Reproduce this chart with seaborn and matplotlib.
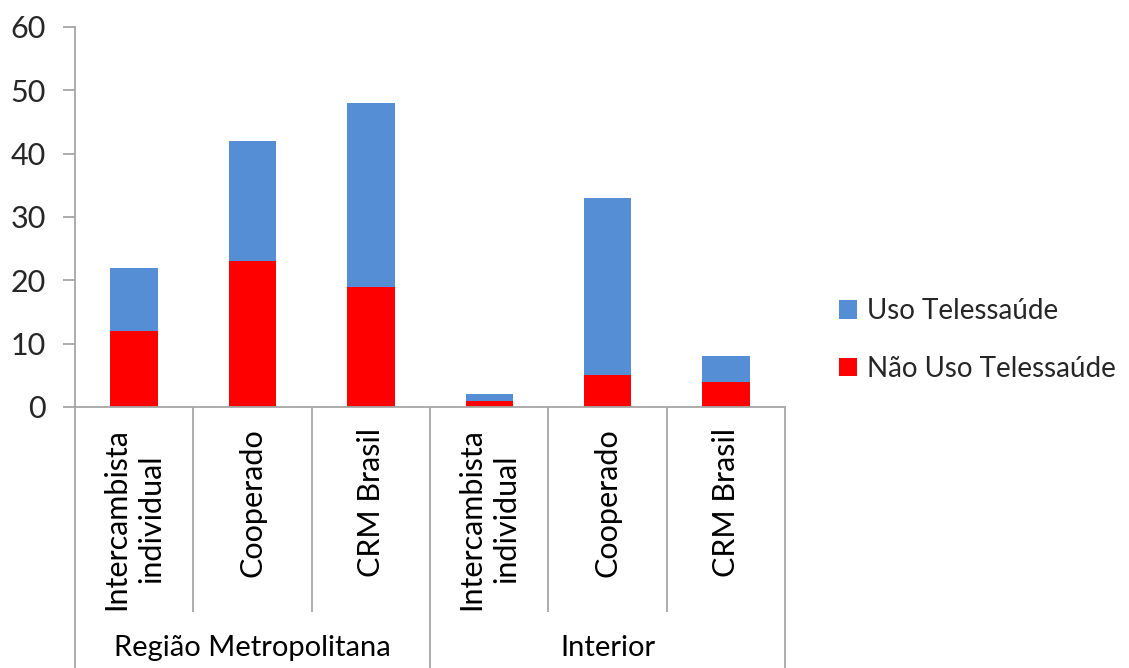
import matplotlib
matplotlib.use("Agg")
import matplotlib.pyplot as plt
import matplotlib.transforms as mtransforms
from matplotlib.patches import Patch
import pandas as pd
import seaborn as sns

groups = ["Região Metropolitana", "Interior"]
categories = ["Intercambista\nindividual", "Cooperado", "CRM Brasil"]
nao_uso = [12, 23, 19, 1, 5, 4]
uso = [10, 19, 29, 1, 28, 4]
series_names = ["Uso Telessaúde", "Não Uso Telessaúde"]
yticks = [0, 10, 20, 30, 40, 50, 60]

BLUE = "#558ED5"
RED = "#FF0000"
GRAY = "#A6A6A6"
FS = 22

sns.set_theme(style="white")
plt.rcParams["font.family"] = ["Lato", "DejaVu Sans"]

keys = [f"{g}|{c}" for g in groups for c in categories]
df = pd.DataFrame({
    "key": keys,
    "nao": nao_uso,
    "total": [a + b for a, b in zip(nao_uso, uso)],
})

fig = plt.figure(figsize=(11.29, 6.68), dpi=100)
ax = fig.add_axes([75 / 1129, 1 - 407 / 668, 710 / 1129, 380 / 668])

sns.barplot(data=df, x="key", y="total", order=keys, color=BLUE,
            width=0.4, saturation=1, ax=ax, linewidth=0)
sns.barplot(data=df, x="key", y="nao", order=keys, color=RED,
            width=0.4, saturation=1, ax=ax, linewidth=0)

ax.set_xlim(-0.5, len(keys) - 0.5)
ax.set_ylim(0, 60)
ax.set_yticks(yticks)
ax.tick_params(axis="y", labelsize=FS, length=9, width=1.3, color=GRAY,
               direction="out", pad=12, left=True)
ax.set_xticks([])
ax.set_xlabel("")
ax.set_ylabel("")
for side in ["top", "right"]:
    ax.spines[side].set_visible(False)
for side in ["left", "bottom"]:
    ax.spines[side].set_color(GRAY)
    ax.spines[side].set_linewidth(1.3)

trans = mtransforms.blended_transform_factory(ax.transData, ax.transAxes)

# category labels (rotated) and group labels
ncat = len(categories)
for i, k in enumerate(keys):
    cat = categories[i % ncat]
    ax.text(i, -0.055, cat, transform=trans, rotation=90, ha="center",
            va="top", fontsize=FS, linespacing=1.3, color="black")
for gi, g in enumerate(groups):
    center = gi * ncat + (ncat - 1) / 2
    ax.text(center, -0.635, g, transform=trans, ha="center", va="center",
            fontsize=21, color="black")

# separators between categories and groups
for i in range(len(keys) + 1):
    x = i - 0.5
    if i % ncat == 0:
        y_end = -0.70
    else:
        y_end = -0.54
    ax.plot([x, x], [0, y_end], transform=trans, color=GRAY, lw=1.3,
            clip_on=False, solid_capstyle="butt")

handles = [Patch(facecolor=BLUE, edgecolor="none", label=series_names[0]),
           Patch(facecolor=RED, edgecolor="none", label=series_names[1])]
fig.legend(handles=handles, loc="center left",
           bbox_to_anchor=(828 / 1129, 1 - 340 / 668), frameon=False,
           fontsize=20, handlelength=0.65, handleheight=0.65,
           handletextpad=0.35, labelspacing=1.15, borderaxespad=0)

fig.savefig("out.png", dpi=100)
